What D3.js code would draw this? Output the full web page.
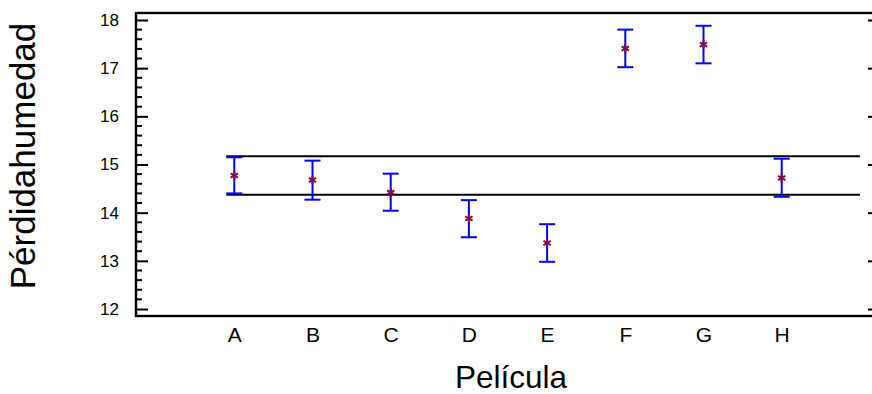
<!DOCTYPE html>
<html>
<head>
<meta charset="utf-8">
<script src="https://cdn.jsdelivr.net/npm/d3@7"></script>
<style>
  body { margin: 0; background: #fff; }
  svg { display: block; font-family: "Liberation Sans", Arial, sans-serif; }
</style>
</head>
<body>
<div id="chart"></div>
<script>
const width = 872;
const height = 394;
const margin = { top: 13, right: -8, bottom: 78, left: 136 };

// data
const categories = ['A', 'B', 'C', 'D', 'E', 'F', 'G', 'H'];
const means = [14.77, 14.68, 14.42, 13.88, 13.37, 17.41, 17.49, 14.72];
const lower = [14.40, 14.27, 14.04, 13.49, 12.98, 17.02, 17.10, 14.33];
const upper = [15.15, 15.08, 14.81, 14.26, 13.76, 17.80, 17.88, 15.12];
const refLines = [15.17, 14.37];
const yTicks = [12, 13, 14, 15, 16, 17, 18];

const innerW = width - margin.left - margin.right;
const innerH = height - margin.top - margin.bottom;

const x = d3.scalePoint()
    .domain(categories)
    .range([0, innerW])
    .padding(1.257);

const y = d3.scaleLinear()
    .domain([11.855, 18.145])
    .range([innerH, 0]);

const svg = d3.select('#chart')
    .append('svg')
    .attr('width', width)
    .attr('height', height);

const g = svg.append('g')
    .attr('transform', 'translate(' + margin.left + ',' + margin.top + ')');

// minor ticks every 0.2
const minor = d3.range(12, 18.01, 0.2).filter(v => Math.abs(v - Math.round(v)) > 0.01);

g.append('g')
    .selectAll('line.minor')
    .data(minor)
    .join('line')
    .attr('x1', 0).attr('x2', 6)
    .attr('y1', d => y(d)).attr('y2', d => y(d))
    .attr('stroke', '#000').attr('stroke-width', 2);

let axisY = g.append('g')
    .call(d3.axisLeft(y).tickValues(yTicks).tickSizeInner(-12).tickSizeOuter(0).tickPadding(17).tickFormat(d3.format('d')));
axisY.select('.domain').remove();
axisY.selectAll('line').attr('stroke-width', 2);
axisY.selectAll('text')
    .style('font-size', '17px')
    .style('font-family', '"Liberation Sans", Arial, sans-serif')
    .attr('fill', '#000');

// right side ticks (pointing inward)
let axisR = g.append('g')
    .attr('transform', 'translate(' + innerW + ',0)')
    .call(d3.axisRight(y).tickValues(yTicks).tickSize(-12).tickFormat(''));
axisR.select('.domain').remove();
axisR.selectAll('line').attr('stroke-width', 2);

let axisX = g.append('g')
    .attr('transform', 'translate(0,' + innerH + ')')
    .call(d3.axisBottom(x).tickSize(0).tickPadding(11));
axisX.select('.domain').remove();
axisX.selectAll('text')
    .style('font-size', '21px')
    .style('font-family', '"Liberation Sans", Arial, sans-serif')
    .attr('fill', '#000');

// frame
g.append('rect')
    .attr('width', innerW)
    .attr('height', innerH)
    .attr('fill', 'none')
    .attr('stroke', '#000')
    .attr('stroke-width', 2.4);

// reference lines
const capHalf = 8;
const lineStart = x(categories[0]) - capHalf;
const lineEnd = x(categories[categories.length - 1]) + x.step();
g.selectAll('line.ref')
    .data(refLines)
    .join('line')
    .attr('class', 'ref')
    .attr('x1', lineStart).attr('x2', lineEnd)
    .attr('y1', d => y(d)).attr('y2', d => y(d))
    .attr('stroke', '#000').attr('stroke-width', 2);

// error bars
const bars = g.selectAll('g.bar')
    .data(categories)
    .join('g')
    .attr('class', 'bar')
    .attr('transform', d => 'translate(' + x(d) + ',0)');

bars.append('line')
    .attr('y1', (d, i) => y(lower[i])).attr('y2', (d, i) => y(upper[i]))
    .attr('stroke', '#0000ff').attr('stroke-width', 2);
bars.append('line')
    .attr('x1', -capHalf).attr('x2', capHalf)
    .attr('y1', (d, i) => y(upper[i])).attr('y2', (d, i) => y(upper[i]))
    .attr('stroke', '#0000ff').attr('stroke-width', 2);
bars.append('line')
    .attr('x1', -capHalf).attr('x2', capHalf)
    .attr('y1', (d, i) => y(lower[i])).attr('y2', (d, i) => y(lower[i]))
    .attr('stroke', '#0000ff').attr('stroke-width', 2);

bars.append('path')
    .attr('transform', (d, i) => 'translate(0,' + y(means[i]) + ')')
    .attr('d', d3.symbol(d3.symbolAsterisk, 50))
    .attr('fill', 'none')
    .attr('stroke', '#850a4a')
    .attr('stroke-width', 2);

// titles
svg.append('text')
    .attr('transform', 'translate(35,156) rotate(-90)')
    .attr('text-anchor', 'middle')
    .style('font-size', '35px')
    .attr('fill', '#000')
    .text('Pérdidahumedad');

svg.append('text')
    .attr('x', 511)
    .attr('y', 388)
    .attr('text-anchor', 'middle')
    .style('font-size', '31.5px')
    .attr('fill', '#000')
    .text('Película');
</script>
</body>
</html>
